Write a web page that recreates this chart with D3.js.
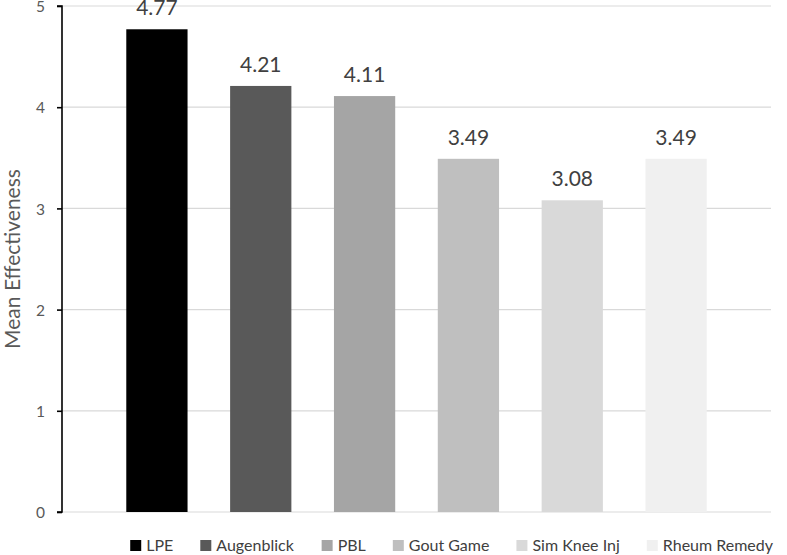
<!DOCTYPE html>
<html>
<head>
<meta charset="utf-8">
<script src="https://cdn.jsdelivr.net/npm/d3@7"></script>
<style>
  html, body { margin: 0; padding: 0; background: #fff; }
  svg { display: block; font-family: Lato, "Open Sans", sans-serif; }
</style>
</head>
<body>
<svg id="chart" width="787" height="555"></svg>
<script>
const categories = ["LPE", "Augenblick", "PBL", "Gout Game", "Sim Knee Inj", "Rheum Remedy"];
const values = [4.77, 4.21, 4.11, 3.49, 3.08, 3.49];
const colors = ["#000000", "#595959", "#a5a5a5", "#bfbfbf", "#d9d9d9", "#f0f0f0"];
const yTicks = [0, 1, 2, 3, 4, 5];
const yTitle = "Mean Effectiveness";

const svg = d3.select("#chart");
const plot = { left: 62, right: 771, top: 6, bottom: 512 };

const y = d3.scaleLinear().domain([0, 5]).range([plot.bottom, plot.top]);
const x = d3.scaleBand().domain(categories).range([105, 728]).paddingInner(0.41).paddingOuter(0.205);

// gridlines
svg.append("g").selectAll("line").data(yTicks).join("line")
  .attr("x1", plot.left).attr("x2", plot.right)
  .attr("y1", d => y(d)).attr("y2", d => y(d))
  .attr("stroke", "#d9d9d9").attr("stroke-width", 1.2);

// bars
svg.append("g").selectAll("rect").data(categories).join("rect")
  .attr("x", d => x(d)).attr("width", x.bandwidth())
  .attr("y", (d, i) => y(values[i])).attr("height", (d, i) => y(0) - y(values[i]))
  .attr("fill", (d, i) => colors[i]);

// value labels
svg.append("g").selectAll("text").data(categories).join("text")
  .attr("x", d => x(d) + x.bandwidth() / 2)
  .attr("y", (d, i) => y(values[i]) - 14)
  .attr("text-anchor", "middle")
  .attr("font-size", 21).attr("fill", "#404040")
  .text((d, i) => values[i].toFixed(2));

// y axis
const yAxis = d3.axisLeft(y).tickValues(yTicks).tickSize(5).tickPadding(12).tickFormat(d3.format("d"));
const ag = svg.append("g").attr("transform", `translate(${plot.left},0)`).call(yAxis);
ag.select(".domain").attr("stroke", "#000").attr("stroke-width", 1.6).attr("d", `M-5,${plot.top}H0V${plot.bottom}H-5`);
ag.selectAll(".tick line").attr("stroke", "#000").attr("stroke-width", 1.6);
ag.selectAll(".tick text").attr("font-size", 15.5).attr("dy", "0.37em").attr("fill", "#595959").attr("font-family", "Lato, sans-serif");

// y title
svg.append("text")
  .attr("transform", `translate(20,${(plot.top + plot.bottom) / 2}) rotate(-90)`)
  .attr("text-anchor", "middle").attr("font-size", 21).attr("fill", "#595959")
  .text(yTitle);

// legend
const lg = svg.append("g");
const items = lg.selectAll("g").data(categories).join("g");
items.append("rect").attr("width", 11).attr("height", 11).attr("y", -9).attr("fill", (d, i) => colors[i]);
items.append("text").attr("x", 16).attr("y", 0)
  .attr("font-size", 16).attr("fill", "#404040").text(d => d).attr("dy", "0.1em");
let cx = 0;
const gap = 27;
items.each(function () {
  const w = this.getBBox().width;
  d3.select(this).attr("transform", `translate(${cx},0)`);
  cx += w + gap;
});
const total = cx - gap;
lg.attr("transform", `translate(${452 - total / 2},549)`);
</script>
</body>
</html>
